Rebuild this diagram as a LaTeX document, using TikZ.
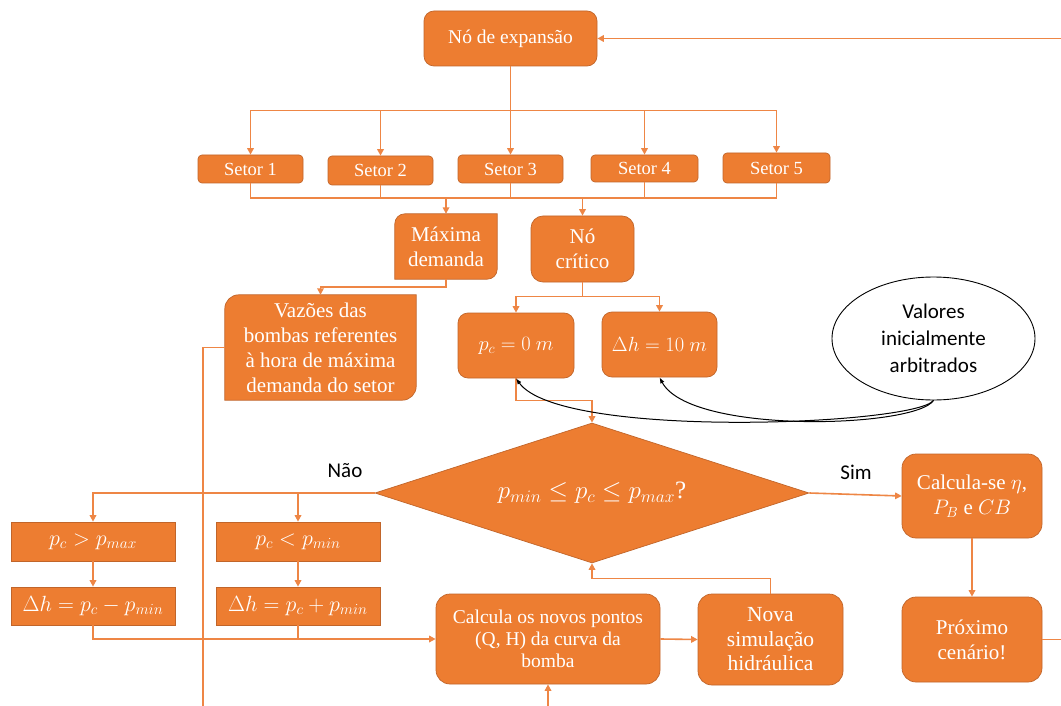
\documentclass[tikz,border=0pt]{standalone}
\usepackage{fix-cm}
\usepackage{fontspec}
\setmainfont{Liberation Serif}
\newfontfamily\lblfont{Carlito}
\usetikzlibrary{arrows.meta,shapes.geometric,backgrounds,calc}
\definecolor{boxor}{HTML}{ED7D31}
\definecolor{boxedge}{HTML}{C1652A}
\definecolor{wire}{HTML}{EE8645}
\newcommand\fs[2]{\fontsize{#1}{#2}\selectfont}
% box with rounded top-left and bottom-right corners
\newcommand\paintdiag[2]{%
  \path[fill=boxor, draw=boxedge, line width=0.7pt]
    (#1.south west) -- ([yshift=-#2]#1.north west)
    arc[start angle=180, end angle=90, radius=#2] -- (#1.north east)
    -- ([yshift=#2]#1.south east)
    arc[start angle=0, end angle=-90, radius=#2] -- cycle;}

\begin{document}
\begin{tikzpicture}[x=1pt,y=1pt,
  obox/.style={fill=boxor, draw=boxedge, line width=0.7pt, text=white,
    align=center, inner sep=0pt},
  rbox/.style={obox, rounded corners=#1},
  dbox/.style={text=white, align=center, inner sep=0pt},
  wire/.style={draw=wire, line width=1.6pt},
  arr/.style={wire, -{Triangle[length=6.5pt,width=6.5pt]}},
  note/.style={draw=black, line width=1pt, -{Latex[length=6pt,width=4.5pt]}},
  lbl/.style={font=\lblfont\fs{21}{25}, text=black},
]
\useasboundingbox (0,0) rectangle (1061,-706);
\begin{scope}[on background layer]
  \fill[white] (0,0) rectangle (1061,-706);
\end{scope}

% top level
\node[rbox=10pt, minimum width=173pt, minimum height=55pt, font=\fs{19.5}{24}]
  (ne) at (510.5,-38.5) {Nó de expansão};

% sectors
\begin{scope}[every node/.style={rbox=4pt, minimum width=105pt, font=\fs{18.5}{22}}]
  \node[minimum height=28pt] (s1) at (250.5,-169) {Setor 1};
  \node[minimum height=29pt] (s2) at (380.5,-170.5) {Setor 2};
  \node[minimum height=28pt] (s3) at (510.5,-169) {Setor 3};
  \node[minimum height=27pt, minimum width=107pt] (s4) at (644.5,-168.5) {Setor 4};
  \node[minimum height=30pt, minimum width=107pt] (s5) at (776.5,-168) {Setor 5};
\end{scope}

% second level
\node[dbox, minimum width=102pt, minimum height=65pt, font=\fs{21}{25}]
  (maxd) at (446,-246.5) {Máxima\\demanda};
\node[rbox=12pt, minimum width=103pt, minimum height=66pt, font=\fs{21}{25}]
  (crit) at (582.5,-249) {Nó\\crítico};
\node[dbox, minimum width=191pt, minimum height=105pt, font=\fs{21}{25}]
  (vaz) at (320.5,-347.5) {Vazões das\\bombas referentes\\à hora de máxima\\demanda do setor};
\node[rbox=10pt, minimum width=116pt, minimum height=65pt, font=\fs{20.5}{24}]
  (pc) at (516,-345.5) {$p_c = 0\ m$};
\node[rbox=10pt, minimum width=115pt, minimum height=65pt, font=\fs{20.5}{24}]
  (dh10) at (659.5,-344.5) {$\Delta h = 10\ m$};
\node[ellipse, draw=black, line width=0.9pt, fill=white, minimum width=203pt,
  minimum height=123pt, inner sep=0pt, align=center, font=\lblfont\fs{21}{27}]
  (vals) at (933.5,-338.5) {Valores\\inicialmente\\arbitrados};

\begin{scope}[on background layer]
  \paintdiag{maxd}{10pt}
  \paintdiag{vaz}{14pt}
\end{scope}

% decision
\node[diamond, aspect=3.1, fill=boxor, draw=boxedge, line width=0.7pt,
  minimum width=434pt, minimum height=140pt, inner sep=0pt, text=white,
  font=\fs{25}{28}] (dec) at (592,-493) {$p_{min} \le p_c \le p_{max}$?};

% correction branch
\begin{scope}[every node/.style={obox, minimum width=164pt, font=\fs{22}{26}}]
  \node[minimum height=39pt] (gt) at (93,-541.5) {$p_c > p_{max}$};
  \node[minimum height=39pt] (lt) at (298,-541.5) {$p_c < p_{min}$};
  \node[minimum height=38pt] (dh1) at (93,-606) {$\Delta h = p_c - p_{min}$};
  \node[minimum height=38pt] (dh2) at (298,-606) {$\Delta h = p_c + p_{min}$};
\end{scope}

\node[rbox=14pt, minimum width=224pt, minimum height=90pt, font=\fs{19.5}{22}]
  (calc) at (548,-639) {Calcula os novos pontos\\(Q, H) da curva da\\bomba};
\node[rbox=14pt, minimum width=145pt, minimum height=91pt, font=\fs{21.5}{24.5}]
  (nova) at (770.5,-639.5) {Nova\\simulação\\hidráulica};
\node[rbox=14pt, minimum width=140pt, minimum height=84pt, font=\fs{21}{25}]
  (cse) at (972,-496) {Calcula-se $\eta$,\\$P_B$ e $CB$};
\node[rbox=14pt, minimum width=140pt, minimum height=85pt, font=\fs{21}{25}]
  (prox) at (972,-639.5) {Próximo\\cenário!};

\node[lbl] (nao) at (345,-471) {Não};
\node[lbl] (sim) at (856,-472) {Sim};

% helper points
\coordinate (busB) at (0,-198);
\coordinate (vazout) at (203,-712);
\coordinate (calcin) at (548,-712);
\coordinate (ret) at (1072,-639.5);

% expansion node to sectors
\foreach \s in {s1,s2,s3,s4,s5}
  \draw[arr] (ne.south) -- ++(0,-44) -| (\s.north);

% sectors to lower bus
\draw[wire] (s1.south) -- (s1.south |- busB) -| (s5.south);
\foreach \s in {s2,s3,s4}
  \draw[wire] (\s.south) -- (\s.south |- busB);
\draw[arr] (maxd.north |- busB) -- (maxd.north);
\draw[arr] (crit.north |- busB) -- (crit.north);

% demand branch
\draw[arr] (maxd.south) -- ++(0,-8) -| (vaz.north);
\draw[wire] (vaz.west) -- (vaz.west -| vazout) -- (vazout);

% critical node branch
\draw[arr] (crit.south) -- ++(0,-14) -| (pc.north);
\draw[arr] (crit.south) -- ++(0,-14) -| (dh10.north);
\draw[arr] (pc.south) -- ++(0,-22) -| (dec.north);

% initial values
\draw[note] (vals.south) .. controls (915,-425) and (560,-440) .. (pc.south);
\draw[note] (vals.south) .. controls (915,-428) and (690,-435) .. (dh10.south);

% "no" branch
\draw[arr] (dec.west) -| (gt.north);
\draw[arr] (dec.west) -| (lt.north);
\draw[arr] (gt.south) -- (dh1.north);
\draw[arr] (lt.south) -- (dh2.north);
\draw[arr] (dh1.south) |- (calc.west);
\draw[wire] (dh2.south) -- (dh2.south |- calc.west);
\draw[arr] (calcin) -- (calc.south);
\draw[arr] (calc.east) -- (nova.west);
\draw[arr] (nova.north) -- ++(0,15) -| (dec.south);

% "yes" branch
\draw[arr] (dec.east) -- (cse.west);
\draw[arr] (cse.south) -- (prox.north);
\draw[arr] (prox.east) -- (ret) |- (ne.east);
\end{tikzpicture}
\end{document}
